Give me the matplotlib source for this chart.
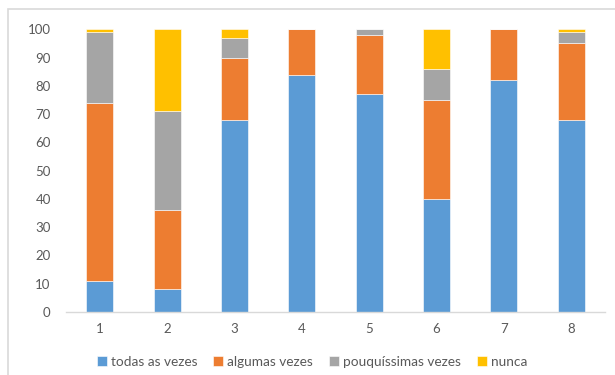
import matplotlib
matplotlib.use("Agg")
import matplotlib.pyplot as plt
from matplotlib.patches import Rectangle
import numpy as np

categories = ["1", "2", "3", "4", "5", "6", "7", "8"]
series_names = ["todas as vezes", "algumas vezes", "pouquíssimas vezes", "nunca"]
todas = [11, 8, 68, 84, 77, 40, 82, 68]
algumas = [63, 28, 22, 16, 21, 35, 18, 27]
pouquissimas = [25, 35, 7, 0, 2, 11, 0, 4]
nunca = [1, 29, 3, 0, 0, 14, 0, 1]
colors = ["#5B9BD5", "#ED7D31", "#A5A5A5", "#FFC000"]
yticks = [0, 10, 20, 30, 40, 50, 60, 70, 80, 90, 100]

plt.rcParams['font.family'] = ['Lato', 'DejaVu Sans']

W, H = 615, 375
fig = plt.figure(figsize=(W / 100, H / 100), dpi=100)

# chart area border (left and top visible)
fig.add_artist(Rectangle((8 / W, -0.1), 1.2, (375 - 9) / H + 0.1, transform=fig.transFigure,
                         fill=False, edgecolor="#D9D9D9", linewidth=1.2))

ax = fig.add_axes([66 / W, (H - 312) / H, (605 - 66) / W, (312 - 29.3) / H])
x = np.arange(1, len(categories) + 1)
bottom = np.zeros(len(categories))
for name, vals, c in zip(series_names, [todas, algumas, pouquissimas, nunca], colors):
    vals = np.array(vals, dtype=float)
    ax.bar(x, vals, width=0.4, bottom=bottom, color=c, label=name,
           edgecolor="white", linewidth=0.4)
    bottom += vals

ax.set_xlim(0.5, len(categories) + 0.5)
ax.set_ylim(0, 100)
ax.set_yticks(yticks)
ax.set_xticks(x)
ax.set_xticklabels(categories)
for s in ["top", "right", "left"]:
    ax.spines[s].set_visible(False)
ax.spines["bottom"].set_color("#D9D9D9")
ax.spines["bottom"].set_linewidth(1.0)
ax.tick_params(axis="both", length=0, colors="#595959", labelsize=9.5)
ax.tick_params(axis="y", pad=11)
ax.tick_params(axis="x", pad=8)

fig.legend(loc="center", bbox_to_anchor=(312 / W, (H - 362) / H), ncol=4, frameon=False,
           fontsize=9.8, handlelength=0.7, handleheight=0.7, handletextpad=0.3,
           columnspacing=1.2, labelcolor="#595959")

fig.savefig("out.png", dpi=100)
